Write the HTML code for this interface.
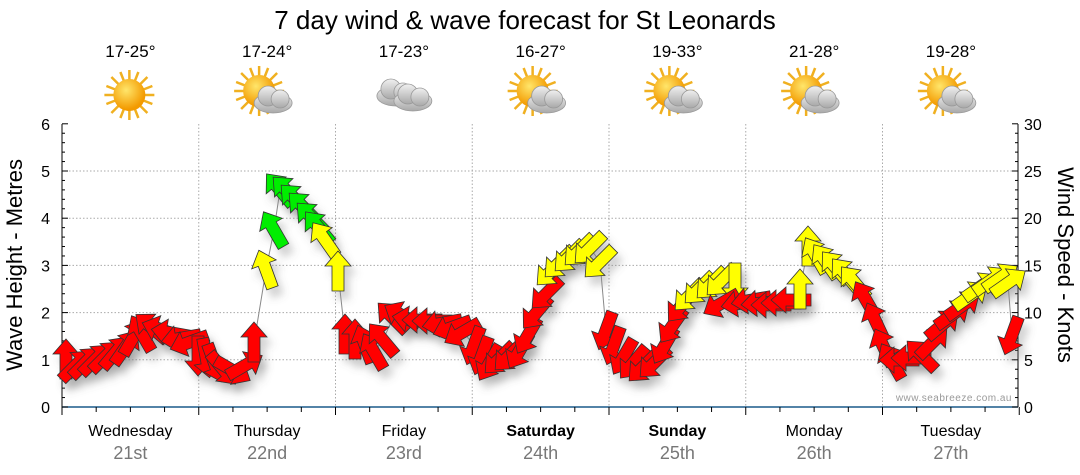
<!DOCTYPE html>
<html><head><meta charset="utf-8"><style>
body{margin:0;background:#fff;width:1080px;height:475px;overflow:hidden;font-family:"Liberation Sans",sans-serif}
svg{position:absolute;left:0;top:0}
</style></head><body>
<svg id="s" width="1080" height="475" xmlns="http://www.w3.org/2000/svg">
<defs>
<filter id="sh" x="-50%" y="-50%" width="200%" height="200%"><feGaussianBlur stdDeviation="4"/></filter>
<radialGradient id="sun" cx="40%" cy="35%" r="60%"><stop offset="0" stop-color="#ffe66b"/><stop offset="1" stop-color="#f39a00"/></radialGradient>
<linearGradient id="cl" x1="0" y1="0" x2="0" y2="1"><stop offset="0" stop-color="#f0f0f0"/><stop offset="1" stop-color="#a8a8a8"/></linearGradient>
<g id="sunI"><g stroke="#f0b020" stroke-width="2.5"><line x1="0" y1="-25" x2="0" y2="25"/><line x1="-25" y1="0" x2="25" y2="0"/><line x1="-18" y1="-18" x2="18" y2="18"/><line x1="-18" y1="18" x2="18" y2="-18"/><line x1="-9" y1="-23" x2="9" y2="23"/><line x1="-23" y1="-9" x2="23" y2="9"/><line x1="-9" y1="23" x2="9" y2="-23"/><line x1="-23" y1="9" x2="23" y2="-9"/></g><circle r="16" fill="url(#sun)"/></g>
<g id="cloud"><g fill="url(#cl)" stroke="#999" stroke-width="0.8"><ellipse cx="0" cy="4" rx="19" ry="10"/><circle cx="-5" cy="-3" r="10"/><circle cx="7" cy="0" r="9"/></g></g>
<polygon id="ar" points="0,-21 13,-6 6,-6 6,19 -6,19 -6,-6 -13,-6" stroke="#333" stroke-width="0.8"/>
</defs>
<text x="525" y="29" font-size="26" text-anchor="middle" fill="#000">7 day wind &amp; wave forecast for St Leonards</text>
<g id="g"></g>
</svg>
<script>
var g=document.getElementById('g'),h='';
var temps=["17-25°","17-24°","17-23°","16-27°","19-33°","21-28°","19-28°"];
var days=["Wednesday","Thursday","Friday","Saturday","Sunday","Monday","Tuesday"];
var dates=["21st","22nd","23rd","24th","25th","26th","27th"];
var X0=62,DW=136.75,Y0=407,U=47.2;
for(var i=0;i<7;i++){var cx=X0+DW*(i+0.5);
h+='<text x="'+cx+'" y="57" font-size="17" text-anchor="middle">'+temps[i]+'</text>';
if(i==0)h+='<use href="#sunI" x="'+(cx-1)+'" y="95"/>';
else if(i==2)h+='<use href="#cloud" x="'+(cx-8)+'" y="92"/><use href="#cloud" x="'+(cx+9)+'" y="97"/>';
else h+='<use href="#sunI" x="'+(cx-8)+'" y="91"/><use href="#cloud" x="'+(cx+6)+'" y="99"/>';
var b=(i==3||i==4)?' font-weight="bold"':'';
h+='<text x="'+cx+'" y="436" font-size="16" text-anchor="middle"'+b+'>'+days[i]+'</text>';
h+='<text x="'+cx+'" y="459" font-size="18" text-anchor="middle" fill="#777">'+dates[i]+'</text>';}
for(var k=1;k<=5;k++){var y=Y0-k*U;h+='<line x1="62" x2="1018" y1="'+y+'" y2="'+y+'" stroke="#aaa" stroke-dasharray="1.5,2"/>';}
for(var i=1;i<7;i++){var x=X0+DW*i;h+='<line x1="'+x+'" x2="'+x+'" y1="124" y2="407" stroke="#aaa" stroke-dasharray="1.5,2"/>';}
h+='<line x1="62" x2="62" y1="124" y2="407" stroke="#000"/><line x1="1018" x2="1018" y1="124" y2="407" stroke="#000"/>';
h+='<line x1="62" x2="1018" y1="407" y2="407" stroke="#1a5a8a" stroke-width="1.5"/>';
for(var k=0;k<=30;k++){var y=Y0-k*U/5,l=(k%5==0)?6:3;
h+='<line x1="62" x2="'+(62+l)+'" y1="'+y+'" y2="'+y+'" stroke="#000"/><line x1="1018" x2="'+(1018-l)+'" y1="'+y+'" y2="'+y+'" stroke="#000"/>';}
for(var k=0;k<=6;k++){var y=Y0-k*U;h+='<text x="50" y="'+(y+6)+'" font-size="16" text-anchor="end">'+k+'</text><text x="1024" y="'+(y+6)+'" font-size="16">'+k*5+'</text>';}
for(var k=0;k<=28;k++){var x=X0+DW*k/4,l=(k%4==0)?8:5;h+='<line x1="'+x+'" x2="'+x+'" y1="407" y2="'+(407+l)+'" stroke="#000"/>';}
h+='<text transform="translate(22,265) rotate(-90)" font-size="22" text-anchor="middle">Wave Height - Metres</text>';
h+='<text transform="translate(1058,265) rotate(90)" font-size="22" text-anchor="middle">Wind Speed - Knots</text>';
h+='<text x="1012" y="401" font-size="10" fill="#999" text-anchor="end" letter-spacing="0.5">www.seabreeze.com.au</text>';
var R='#f00',Y='#ff0',G='#0e0';
var d=[[66,360,0,R],[75,366,45,R],[85,363,45,R],[95,360,45,R],[105,357,45,R],[115,353,40,R],[125,348,35,R],[133,338,30,R],[142,334,-30,R],[152,328,-50,R],[162,330,-70,R],[172,333,-80,R],[182,338,-100,R],[190,342,-110,R],
[198,355,180,R],[206,357,170,R],[214,362,160,R],[222,368,140,R],[232,370,120,R],[244,366,60,R],[254,343,0,R],[266,270,-20,Y],[274,230,-30,G],[280,190,-40,G],[288,192,-45,G],[296,200,-45,G],[304,208,-45,G],[312,218,-45,G],[319,228,-40,G],[325,240,-35,Y],[338,272,0,Y],
[345,335,0,R],[355,340,0,R],[365,345,-20,R],[374,352,-30,R],[383,340,-40,R],[393,318,-45,R],[403,316,-60,R],[413,320,-80,R],[423,320,-90,R],[433,321,-90,R],[443,323,-100,R],[453,327,-110,R],[463,332,-120,R],
[474,345,200,R],[482,355,200,R],[490,362,210,R],[500,358,225,R],[510,355,225,R],[520,350,210,R],[528,335,210,R],[537,312,220,R],[547,293,225,R],[552,270,225,Y],[560,262,225,Y],[570,256,225,Y],[580,250,225,Y],[590,248,225,Y],[600,262,225,Y],[606,330,200,R],
[614,345,200,R],[624,356,210,R],[634,362,220,R],[644,366,225,R],[655,362,225,R],[665,345,210,R],[673,325,215,R],[682,305,220,R],[690,295,225,Y],[700,288,225,Y],[712,283,225,Y],[722,280,225,Y],[735,282,180,Y],[722,303,-120,R],[742,303,-100,R],
[752,300,-100,R],[762,303,-95,R],[772,305,-90,R],[782,303,-90,R],[792,300,-90,R],[800,290,0,Y],[808,247,0,Y],[816,256,-30,Y],[826,262,-35,Y],[836,268,-40,Y],[846,275,-40,Y],[855,283,-40,Y],[866,300,-30,R],[876,322,-25,R],[884,348,-25,R],[892,362,-30,R],
[900,360,-90,R],[912,358,-90,R],[922,356,-45,R],[932,343,45,R],[942,325,50,R],[952,315,55,R],[962,306,55,R],[970,296,55,Y],[980,287,55,Y],[990,281,55,Y],[1000,278,55,Y],[1008,283,55,Y],[1012,335,200,R]];
var sh='',ar='',pl='';
d.forEach(function(p){pl+=p[0]+','+p[1]+' ';
sh+='<use href="#ar" transform="translate('+(p[0]+5)+','+(p[1]+8)+') rotate('+p[2]+')" fill="#888" stroke="none" opacity="0.35"/>';
ar+='<use href="#ar" transform="translate('+p[0]+','+p[1]+') rotate('+p[2]+')" fill="'+p[3]+'"/>';});
h+='<g filter="url(#sh)">'+sh+'</g><polyline points="'+pl+'" fill="none" stroke="#888"/>'+ar;
g.innerHTML=h;
</script>
</body></html>
